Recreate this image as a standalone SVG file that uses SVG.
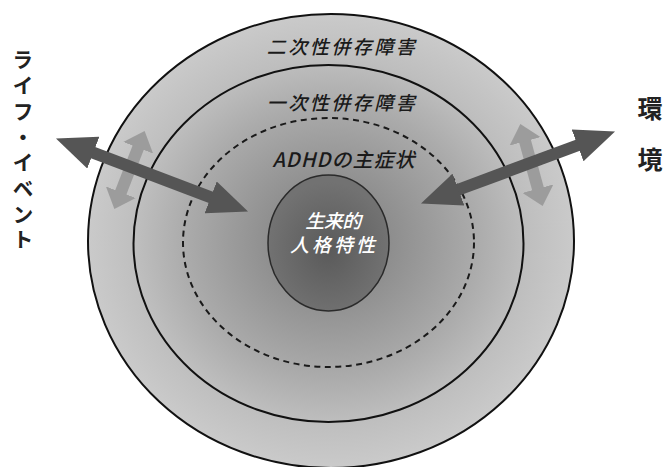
<svg xmlns="http://www.w3.org/2000/svg" width="668" height="467" viewBox="0 0 668 467">
<style>
.ring{stroke:#111;stroke-width:2}
.dash{fill:none;stroke:#1a1a1a;stroke-width:2;stroke-dasharray:6 4.5}
.lbl{font-family:"Noto Sans CJK JP","Noto Sans",sans-serif;font-style:italic;font-weight:500;fill:#1a1a1a;text-anchor:middle;dominant-baseline:central}
.core{font-family:"Noto Sans CJK JP","Noto Sans",sans-serif;font-style:italic;font-weight:500;fill:#fff;text-anchor:middle;dominant-baseline:central;font-size:19px}
.side{font-family:"Noto Sans CJK JP",sans-serif;font-weight:700;fill:#222;writing-mode:vertical-rl}
.big{stroke:#555;stroke-width:12;fill:none}
.light{stroke:#9c9c9c;stroke-width:12;fill:none}
</style>
<defs>
<radialGradient id="bg" cx="0.5" cy="0.5" r="0.5">
<stop offset="0.2" stop-color="#8a8a8a"/>
<stop offset="0.6" stop-color="#ababab"/>
<stop offset="0.8" stop-color="#bebebe"/>
<stop offset="1" stop-color="#cacaca"/>
</radialGradient>
<radialGradient id="coreg" cx="0.5" cy="0.55" r="0.5">
<stop offset="0" stop-color="#5a5a5a"/>
<stop offset="1" stop-color="#727272"/>
</radialGradient>
<marker id="hb" markerUnits="userSpaceOnUse" viewBox="0 0 40 34" markerWidth="40" markerHeight="34" refX="1" refY="17" orient="auto-start-reverse">
<path d="M0,0 L40,17 L0,34 z" fill="#555"/>
</marker>
<marker id="hl" markerUnits="userSpaceOnUse" viewBox="0 0 18 32" markerWidth="18" markerHeight="32" refX="1" refY="16" orient="auto-start-reverse">
<path d="M0,0 L18,16 L0,32 z" fill="#9c9c9c"/>
</marker>
</defs>
<rect width="668" height="467" fill="#fff"/>
<g id="ring-secondary">
<ellipse class="ring" cx="331" cy="241" rx="243" ry="227" fill="url(#bg)"/>
<text class="lbl" x="342" y="45" font-size="19" letter-spacing="2.5">二次性併存障害</text>
</g>
<g id="ring-primary">
<ellipse class="ring" cx="328.5" cy="243.5" rx="195" ry="178.5" fill="none"/>
<text class="lbl" x="342" y="101" font-size="19" letter-spacing="2.5">一次性併存障害</text>
</g>
<g id="ring-adhd">
<ellipse class="dash" cx="328.5" cy="242.5" rx="145.5" ry="124.5"/>
<text class="lbl" x="344" y="158" font-size="20" letter-spacing="1">ADHDの主症状</text>
</g>
<g id="core-traits">
<ellipse cx="328.5" cy="243" rx="60.5" ry="68" fill="url(#coreg)" stroke="#2a2a2a" stroke-width="1.5"/>
<text class="core" x="333" y="219" letter-spacing="-0.5">生来的</text>
<text class="core" x="334" y="243.5" letter-spacing="3">人格特性</text>
</g>
<g id="label-life-event">
<text class="side" x="23" y="49" font-size="21" letter-spacing="4.7">ライフ・イベント</text>
</g>
<g id="label-environment">
<text class="side" x="650" y="96" font-size="25" letter-spacing="26">環境</text>
</g>
<g id="connectors">
<line class="light" x1="138.5" y1="146.8" x2="120.5" y2="193.2" marker-start="url(#hl)" marker-end="url(#hl)"/>
<line class="light" x1="524.8" y1="140.4" x2="538.2" y2="189.6" marker-start="url(#hl)" marker-end="url(#hl)"/>
<line class="big" x1="92.4" y1="152.3" x2="211.6" y2="197.7" marker-start="url(#hb)" marker-end="url(#hb)"/>
<line class="big" x1="578.5" y1="145" x2="457.5" y2="190" marker-start="url(#hb)" marker-end="url(#hb)"/>
</g>
</svg>
